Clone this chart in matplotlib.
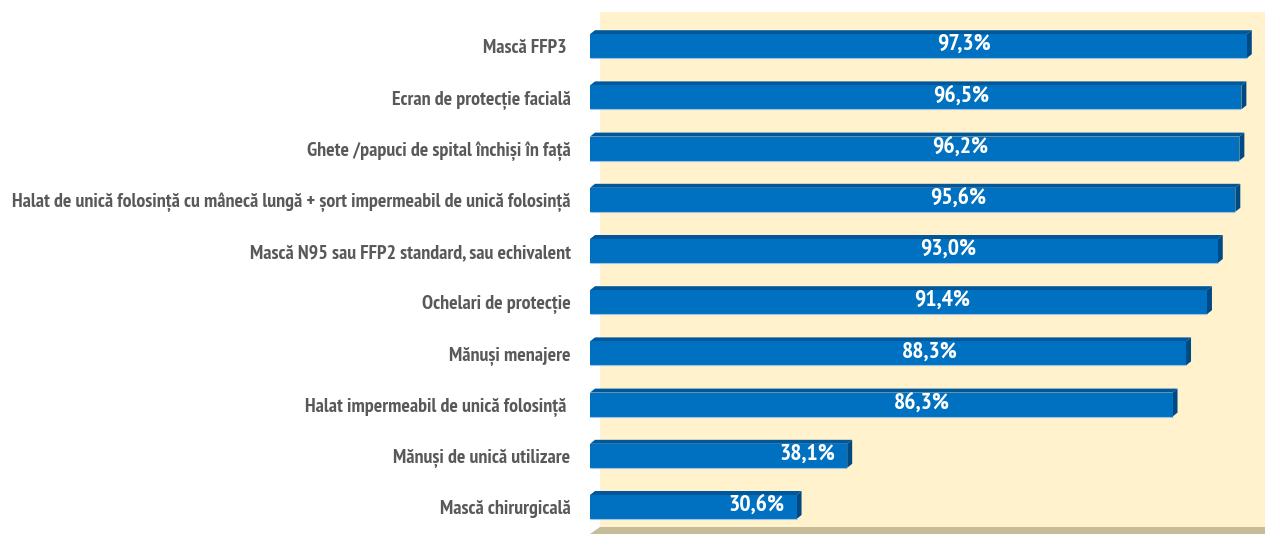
import matplotlib.pyplot as plt
from matplotlib.patches import Polygon

# -------------------------
# Data
# -------------------------
categories = [
    "Mască FFP3 ",
    "Ecran de protecție facială",
    "Ghete /papuci de spital închiși în față",
    "Halat de unică folosință cu mânecă lungă + șort impermeabil de unică folosință",
    "Mască N95 sau FFP2 standard, sau echivalent",
    "Ochelari de protecție",
    "Mănuși menajere",
    "Halat impermeabil de unică folosință ",
    "Mănuși de unică utilizare",
    "Mască chirurgicală",
]
values = [97.3, 96.5, 96.2, 95.6, 93.0, 91.4, 88.3, 86.3, 38.1, 30.6]
value_labels = ["97,3%", "96,5%", "96,2%", "95,6%", "93,0%", "91,4%",
                "88,3%", "86,3%", "38,1%", "30,6%"]

FONT = ["PT Sans Narrow", "DejaVu Sans"]
FRONT = "#0070C0"
TOP = "#00579A"
SIDE = "#004A84"
WALL = "#FFF2CC"
FLOOR = "#C4BD97"

# -------------------------
# Figure / axes
# -------------------------
W, H = 1265, 534
fig = plt.figure(figsize=(W / 100, H / 100), dpi=100)
ax = fig.add_axes([590 / W, 0, 675 / W, 1])

n = len(values)
ypos = [n - 1 - i for i in range(n)]
step = 51.2  # px per category
ax.set_xlim(0, 100)
ax.set_ylim(-27 / step, (H - 27) / step)

# depth offsets in data units
dx = 5 / 6.75
dy = 4 / step
bh = 24 / step

# back wall and floor
wall_left = 10 / 6.75
wall_bottom = -20 / step
wall_top = (H - 12 - 27) / step
ax.add_patch(Polygon([(wall_left, wall_bottom), (100, wall_bottom),
                      (100, wall_top), (wall_left, wall_top)],
                     closed=True, facecolor=WALL, edgecolor="none", zorder=0))
ax.add_patch(Polygon([(0, -27 / step), (100, -27 / step), (100, wall_bottom),
                      (wall_left, wall_bottom)],
                     closed=True, facecolor=FLOOR, edgecolor="none", zorder=0.5))

# -------------------------
# Bars with 3D look
# -------------------------
bars = ax.barh(ypos, values, height=bh, color=FRONT, edgecolor="none", zorder=3)
for y, v in zip(ypos, values):
    top = y + bh / 2
    bot = y - bh / 2
    ax.add_patch(Polygon([(0, top), (dx, top + dy), (v + dx, top + dy), (v, top)],
                         closed=True, facecolor=TOP, edgecolor="none", zorder=2))
    ax.add_patch(Polygon([(v, bot), (v, top), (v + dx, top + dy), (v + dx, bot + dy)],
                         closed=True, facecolor=SIDE, edgecolor="none", zorder=2))
    ax.plot([0, v], [bot, bot], color="#9DC3E6", lw=0.8, zorder=3.5,
            solid_capstyle="butt")

for y, v, lab in zip(ypos, values, value_labels):
    if v > 60:
        ax.text(v * 0.57, y + 0.03, lab, ha="center", va="center",
                color="white", fontsize=17, fontweight="bold", family=FONT, zorder=5)
    else:
        ax.text(v - 1.8, y + 0.03, lab, ha="right", va="center",
                color="white", fontsize=17, fontweight="bold", family=FONT, zorder=5)

# -------------------------
# Axis styling
# -------------------------
ax.set_yticks(ypos)
ax.set_yticklabels(categories, family=FONT, fontsize=14.4, fontweight="bold",
                   color="#595959")
ax.tick_params(axis="y", length=0, pad=14)
ax.set_xticks([])
for s in ax.spines.values():
    s.set_visible(False)
ax.patch.set_alpha(0)

fig.savefig("out.png", dpi=100)
